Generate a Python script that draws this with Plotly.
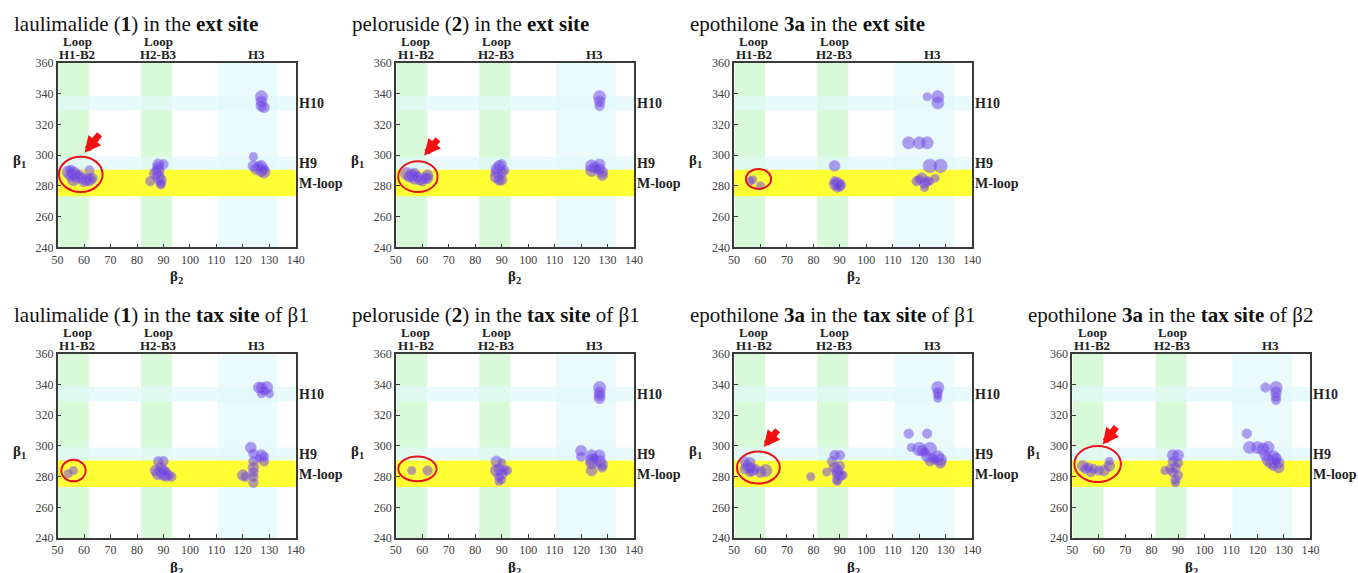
import plotly.graph_objects as go

# ---------------- data ----------------
titles = [
    "laulimalide (<b>1</b>) in the <b>ext site</b>",
    "peloruside (<b>2</b>) in the <b>ext site</b>",
    "epothilone <b>3a</b> in the <b>ext site</b>",
    "laulimalide (<b>1</b>) in the <b>tax site</b> of β1",
    "peloruside (<b>2</b>) in the <b>tax site</b> of β1",
    "epothilone <b>3a</b> in the <b>tax site</b> of β1",
    "epothilone <b>3a</b> in the <b>tax site</b> of β2",
]

x_ticks = [50, 60, 70, 80, 90, 100, 110, 120, 130, 140]
y_ticks = [240, 260, 280, 300, 320, 340, 360]

top_line1 = ["Loop", "Loop", ""]
top_line2 = ["H1-B2", "H2-B3", "H3"]
top_label_x = [57.5, 88, 125]
right_labels = ["H10", "H9", "M-loop"]
right_label_y = [333.5, 294.5, 281.5]

lau_ext_b2 = [54, 55, 55, 56, 56, 57, 58, 59, 60, 61, 62, 62, 63,
              85, 87, 88, 88, 90, 88, 88, 89, 89, 89,
              124, 124, 125, 126, 127, 128, 127, 128,
              127, 127, 127, 128]
lau_ext_b1 = [289, 287, 290, 288, 284, 286, 287, 285, 283, 284, 290, 284, 285,
              283, 288, 292, 294, 294, 290, 286, 284, 282, 281,
              299, 293, 291, 293, 293, 291, 290, 289,
              338, 335, 332, 331]
lau_ext_size = [9, 9, 8, 10, 9, 9, 8, 8, 8, 9, 7, 9, 8,
                7, 9, 8, 8, 7, 9, 9, 8, 7, 7,
                6, 8, 8, 7, 8, 7, 9, 9,
                9, 8, 8, 8]

pel_ext_b2 = [54, 55, 56, 57, 57, 58, 59, 60, 61, 62, 62,
              88, 88, 89, 90, 88, 89, 90, 90, 91,
              124, 124, 125, 127, 127, 128, 128, 126,
              127, 127, 127]
pel_ext_b1 = [288, 286, 287, 285, 288, 286, 284, 283, 285, 287, 285,
              291, 289, 293, 294, 286, 284, 289, 284, 290,
              293, 290, 292, 294, 291, 289, 287, 291,
              338, 335, 332]
pel_ext_size = [9, 8, 9, 9, 8, 8, 8, 7, 8, 8, 8,
                8, 8, 8, 7, 9, 8, 8, 8, 7,
                9, 9, 8, 8, 8, 8, 8, 7,
                9, 8, 7]

epo_ext_b2 = [56, 57, 60,
              88, 88, 88, 89, 90, 90, 89,
              116, 120, 123, 124, 128, 119, 121, 120, 122, 123, 124, 122, 126,
              123, 127, 127]
epo_ext_b1 = [283, 284, 280,
              293, 283, 281, 282, 281, 280, 279,
              308, 308, 308, 293, 293, 283, 285, 284, 282, 283, 283, 279, 285,
              338, 338, 334]
epo_ext_size = [6, 6, 6,
                8, 7, 8, 8, 8, 8, 7,
                9, 9, 9, 10, 10, 7, 8, 7, 8, 7, 6, 6, 6,
                6, 9, 9]

lau_tax1_b2 = [54, 56,
               88, 90, 87, 88, 89, 90, 91, 92, 93, 89, 90, 91,
               120, 121, 123, 124, 124, 124, 124, 124, 124, 127, 128, 128, 126,
               126, 127, 129, 128, 130, 127]
lau_tax1_b1 = [282, 284,
               290, 290, 284, 282, 283, 281, 280, 281, 280, 286, 284, 283,
               281, 280, 299, 295, 290, 286, 283, 280, 276, 294, 293, 290, 292,
               338, 338, 338, 336, 334, 334]
lau_tax1_size = [6, 6,
                 7, 7, 8, 9, 8, 8, 7, 7, 7, 8, 8, 7,
                 8, 7, 8, 7, 7, 8, 7, 7, 7, 8, 7, 7, 6,
                 8, 8, 9, 7, 6, 6]

pel_tax1_b2 = [56, 62,
               88, 90, 88, 89, 90, 91, 89, 90, 89, 92,
               120, 120, 124, 124, 124, 124, 127, 127, 128, 128, 125,
               127, 127, 127, 127]
pel_tax1_b1 = [284, 284,
               290, 289, 284, 285, 282, 284, 280, 278, 277, 284,
               297, 293, 294, 291, 289, 284, 294, 290, 288, 286, 292,
               338, 335, 333, 331]
pel_tax1_size = [6, 7,
                 8, 6, 9, 8, 8, 7, 7, 6, 6, 7,
                 8, 7, 8, 9, 9, 8, 8, 9, 8, 7, 7,
                 9, 8, 8, 8]

epo_tax1_b2 = [54, 54, 55, 56, 56, 57, 58, 60, 62, 56,
               79,
               85, 87, 88, 90, 88, 89, 89, 90, 91, 89, 89, 90,
               116, 123, 117, 120, 121, 124, 123, 124, 125, 127, 128, 128, 126, 122,
               127, 127, 127, 127]
epo_tax1_b1 = [290, 285, 287, 289, 286, 284, 285, 283, 284, 283,
               280,
               283, 290, 294, 294, 286, 284, 282, 281, 281, 278, 277, 287,
               308, 308, 299, 298, 297, 298, 293, 290, 292, 293, 291, 289, 291, 296,
               338, 335, 333, 331]
epo_tax1_size = [7, 7, 8, 8, 8, 8, 7, 8, 9, 7,
                 6,
                 6, 7, 7, 7, 8, 8, 8, 8, 7, 7, 6, 7,
                 7, 7, 6, 10, 8, 10, 8, 7, 7, 9, 9, 8, 7, 7,
                 9, 7, 6, 6]

epo_tax2_b2 = [54, 55, 56, 57, 58, 60, 62, 64, 64,
               85, 87, 88, 90, 88, 89, 88, 90, 89, 89, 90,
               116, 117, 120, 122, 124, 123, 124, 125, 126, 127, 128, 128, 126, 127,
               123, 127, 127, 127, 127]
epo_tax2_b1 = [287, 285, 286, 283, 285, 284, 284, 290, 287,
               284, 285, 294, 294, 290, 286, 283, 281, 278, 276, 289,
               308, 299, 299, 298, 299, 294, 291, 289, 293, 292, 289, 286, 287, 290,
               338, 338, 335, 332, 330]
epo_tax2_size = [8, 7, 7, 7, 7, 7, 8, 6, 8,
                 6, 7, 8, 8, 7, 7, 7, 7, 7, 6, 7,
                 7, 9, 9, 9, 9, 8, 9, 8, 9, 8, 8, 8, 7, 7,
                 7, 9, 8, 7, 7]

panel_b2 = [lau_ext_b2, pel_ext_b2, epo_ext_b2, lau_tax1_b2, pel_tax1_b2, epo_tax1_b2, epo_tax2_b2]
panel_b1 = [lau_ext_b1, pel_ext_b1, epo_ext_b1, lau_tax1_b1, pel_tax1_b1, epo_tax1_b1, epo_tax2_b1]
panel_size = [lau_ext_size, pel_ext_size, epo_ext_size, lau_tax1_size, pel_tax1_size, epo_tax1_size, epo_tax2_size]

# highlighted regions (ellipse x0,x1,y0,y1) and arrows (tail x,y -> tip x,y)
ellipses = [(50.5, 67.0, 276, 299), (50.9, 65.8, 276, 296), (54.5, 64.0, 278, 291),
            (51.4, 60.6, 277, 291), (50.9, 65.4, 277, 293.2), (51.1, 67.3, 275.5, 296.4),
            (50.8, 68.4, 276.5, 300)]
arrows = [(66.3, 314.6, 60.2, 301.6), (66.4, 311.2, 60.7, 299.7), None,
          None, None, (66.9, 311.2, 61.2, 299.3), (67.1, 313.3, 61.5, 300.9)]

# ---------------- layout geometry ----------------
# target positions are given in picture pixels; the rendered page is offset by an
# 8px body margin and scaled into the 1358x573 picture.
W, H = 1358, 573
OFF = 8
SX = W / (W + 2 * OFF)
SY = H / (H + 2 * OFF)
col_left = [59.5, 397.5, 735.5, 1073.5]
plot_w = 238
row_top = [63.5, 353.5]
plot_h = 184
positions = [(0, 0), (0, 1), (0, 2), (1, 0), (1, 1), (1, 2), (1, 3)]
SIZE_SCALE = 1.35


def px(x):
    return (x / SX - OFF) / W


def py(y):
    return 1 - (y / SY - OFF) / H


SERIF = "Liberation Serif, Times New Roman, serif"
fig = go.Figure()
shapes = []
annotations = []

for i, (r, c) in enumerate(positions):
    n = i + 1
    xa = "x" if n == 1 else f"x{n}"
    ya = "y" if n == 1 else f"y{n}"
    axis_common = dict(showgrid=False, zeroline=False, showline=True, mirror=True,
                       linecolor="#3a3a3a", linewidth=1.5, ticks="inside", ticklen=4,
                       tickcolor="#3a3a3a",
                       tickfont=dict(family=SERIF, size=12, color="#404040"))
    fig.update_layout(**{
        ("xaxis" if n == 1 else f"xaxis{n}"): dict(domain=[px(col_left[c]), px(col_left[c] + plot_w)],
                                                  range=[50, 140], tickvals=x_ticks, anchor=ya,
                                                  **axis_common),
        ("yaxis" if n == 1 else f"yaxis{n}"): dict(domain=[py(row_top[r] + plot_h), py(row_top[r])],
                                                  range=[240, 360], tickvals=y_ticks, anchor=xa,
                                                  **axis_common),
    })
    xd = f"{xa} domain"
    yd = f"{ya} domain"
    # vertical bands
    for (a, b, col) in [(50.3, 61.8, "#d8fad8"), (81.5, 93.2, "#d8fad8"), (110.5, 133.2, "#ebfbfb")]:
        shapes.append(dict(type="rect", xref=xa, yref=yd, x0=a, x1=b, y0=0, y1=1,
                           fillcolor=col, line_width=0, layer="below"))
    # horizontal bands
    for (a, b, col) in [(329, 338.3, "rgba(225,248,250,0.75)"), (290.5, 299, "rgba(225,248,250,0.75)"),
                        (273.3, 290.5, "#ffff33")]:
        shapes.append(dict(type="rect", xref=xd, yref=ya, x0=0, x1=1, y0=a, y1=b,
                           fillcolor=col, line_width=0, layer="below"))
    # ellipse
    e = ellipses[i]
    shapes.append(dict(type="circle", xref=xa, yref=ya, x0=e[0], x1=e[1], y0=e[2], y1=e[3],
                       line=dict(color="#e8141b", width=2), layer="above"))
    # arrow
    if arrows[i] is not None:
        tx, ty, hx, hy = arrows[i]
        annotations.append(dict(x=hx, y=hy, ax=tx, ay=ty, xref=xa, yref=ya, axref=xa, ayref=ya,
                                showarrow=True, arrowhead=2, arrowsize=0.5, arrowwidth=6.5,
                                arrowcolor="#f41010", text=""))
    # markers
    fig.add_trace(go.Scatter(x=panel_b2[i], y=panel_b1[i], mode="markers", xaxis=xa, yaxis=ya,
                             marker=dict(size=[s * SIZE_SCALE for s in panel_size[i]],
                                         color="rgba(110,66,226,0.72)",
                                         line=dict(color="rgba(145,110,245,0.75)", width=1)),
                             showlegend=False, hoverinfo="x+y"))
    # title
    annotations.append(dict(text=titles[i], xref="paper", yref="paper",
                            x=px(col_left[c] - 46), y=py(row_top[r] - 38.5),
                            xanchor="left", yanchor="middle", showarrow=False,
                            font=dict(family=SERIF, size=21, color="#111111")))
    # top labels (two separate lines)
    for l1, l2, tx in zip(top_line1, top_line2, top_label_x):
        annotations.append(dict(text=f"<b>{l2}</b>", xref=xa, yref=yd, x=tx, y=1,
                                xanchor="center", yanchor="middle", yshift=8, showarrow=False,
                                font=dict(family=SERIF, size=13, color="#222222")))
        if l1:
            annotations.append(dict(text=f"<b>{l1}</b>", xref=xa, yref=yd, x=tx, y=1,
                                    xanchor="center", yanchor="middle", yshift=21, showarrow=False,
                                    font=dict(family=SERIF, size=13, color="#222222")))
    # right labels
    for t, ty in zip(right_labels, right_label_y):
        annotations.append(dict(text=f"<b>{t}</b>", xref=xd, yref=ya, x=1, y=ty,
                                xanchor="left", yanchor="middle", xshift=1, showarrow=False,
                                font=dict(family=SERIF, size=14, color="#222222")))
    # axis titles
    annotations.append(dict(text="<b>β<sub>2</sub></b>", xref=xd, yref=yd, x=0.5, y=0,
                            xanchor="center", yanchor="top", yshift=-19, showarrow=False,
                            font=dict(family=SERIF, size=15, color="#222222")))
    annotations.append(dict(text="<b>β<sub>1</sub></b>", xref=xd, yref=ya, x=0, y=296,
                            xanchor="right", yanchor="middle", xshift=-30, showarrow=False,
                            font=dict(family=SERIF, size=15, color="#222222")))

fig.update_layout(width=W, height=H, autosize=False, margin=dict(l=0, r=0, t=0, b=0),
                  paper_bgcolor="white", plot_bgcolor="white", shapes=shapes,
                  annotations=annotations, showlegend=False)
fig.write_html("out.html")
